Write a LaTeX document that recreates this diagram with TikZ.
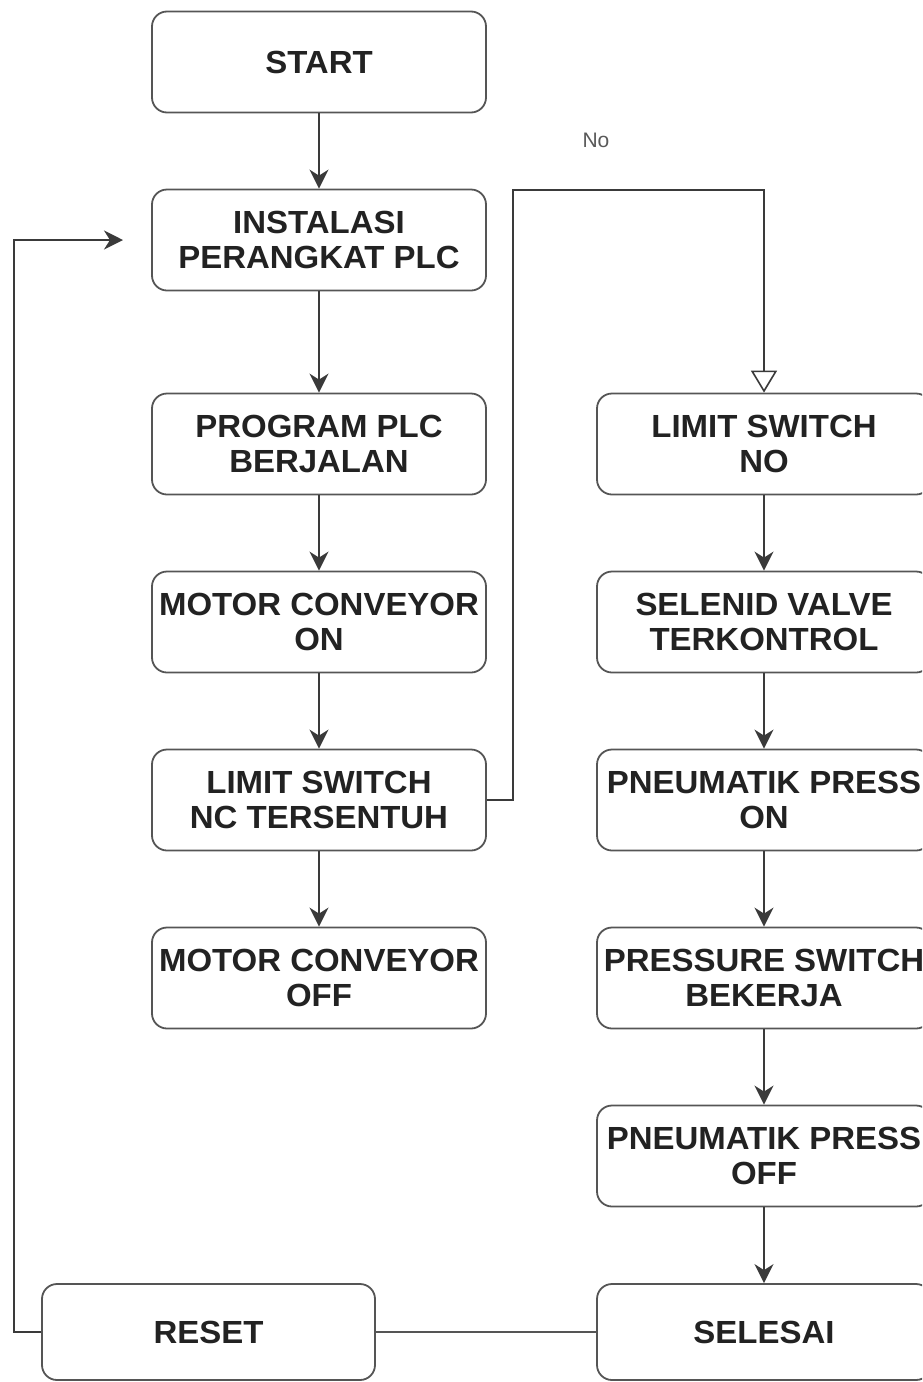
\documentclass[tikz,border=0pt]{standalone}
\usepackage{fontspec}
\setmainfont{Liberation Sans}
\newfontfamily\boxfont[FakeStretch=1.03]{Liberation Sans}
\usetikzlibrary{arrows.meta}
\definecolor{edge}{HTML}{555555}
\definecolor{ink}{HTML}{222222}
\definecolor{wire}{HTML}{3A3A3A}
\tikzset{
  stepbox/.style={draw=edge, line width=1.8pt, rounded corners=15pt, fill=white,
    minimum width=334pt, minimum height=101pt, inner sep=0pt, align=center,
    text=ink, font=\boxfont\bfseries\fontsize{32}{35}\selectfont},
  flow/.style={draw=wire, line width=1.8pt, -{Stealth[length=19pt,width=19pt,inset=6pt]}},
  plain/.style={draw=edge, line width=1.8pt},
  openflow/.style={draw=wire, line width=1.8pt, -{Triangle[open,length=22pt,width=26pt,line width=1.6pt]}}
}
\begin{document}
\begin{tikzpicture}[x=1pt,y=-1pt]
\useasboundingbox (0,0) rectangle (922,1382);
\clip (0,0) rectangle (922,1382);
% left column
\node[stepbox] (start) at (319,62)  {START};
\node[stepbox] (inst)  at (319,240) {INSTALASI\\PERANGKAT PLC};
\node[stepbox] (prog)  at (319,444) {PROGRAM PLC\\BERJALAN};
\node[stepbox] (mon)   at (319,622) {MOTOR CONVEYOR\\ON};
\node[stepbox] (lnc)   at (319,800) {LIMIT SWITCH\\NC TERSENTUH};
\node[stepbox] (moff)  at (319,978) {MOTOR CONVEYOR\\OFF};
% right column
\node[stepbox] (lno)   at (764,444)  {LIMIT SWITCH\\NO};
\node[stepbox] (sel)   at (764,622)  {SELENID VALVE\\TERKONTROL};
\node[stepbox] (pon)   at (764,800)  {PNEUMATIK PRESS\\ON};
\node[stepbox] (prs)   at (764,978)  {PRESSURE SWITCH\\BEKERJA};
\node[stepbox] (poff)  at (764,1156) {PNEUMATIK PRESS\\OFF};
\node[stepbox, minimum height=96pt] (done)  at (764,1332) {SELESAI};
\node[stepbox, minimum height=96pt, minimum width=333pt] (reset) at (208.5,1332) {RESET};
% connectors
\draw[flow] (start) -- (inst);
\draw[flow] (inst) -- (prog);
\draw[flow] (prog) -- (mon);
\draw[flow] (mon) -- (lnc);
\draw[flow] (lnc) -- (moff);
\draw[flow] (lno) -- (sel);
\draw[flow] (sel) -- (pon);
\draw[flow] (pon) -- (prs);
\draw[flow] (prs) -- (poff);
\draw[flow] (poff) -- (done);
\draw[plain] (done) -- (reset);
\coordinate (back) at (123,240);
\draw[flow] (reset.west) -- (14,1332) -- (14,240) -- (back);
\draw[openflow] (lnc.east) -- (513,800) -- (513,190) -- (764,190) -- (lno.north);
\node[text=ink!75, font=\fontsize{21}{24}\selectfont] (no) at (596,140) {No};
\end{tikzpicture}
\end{document}
